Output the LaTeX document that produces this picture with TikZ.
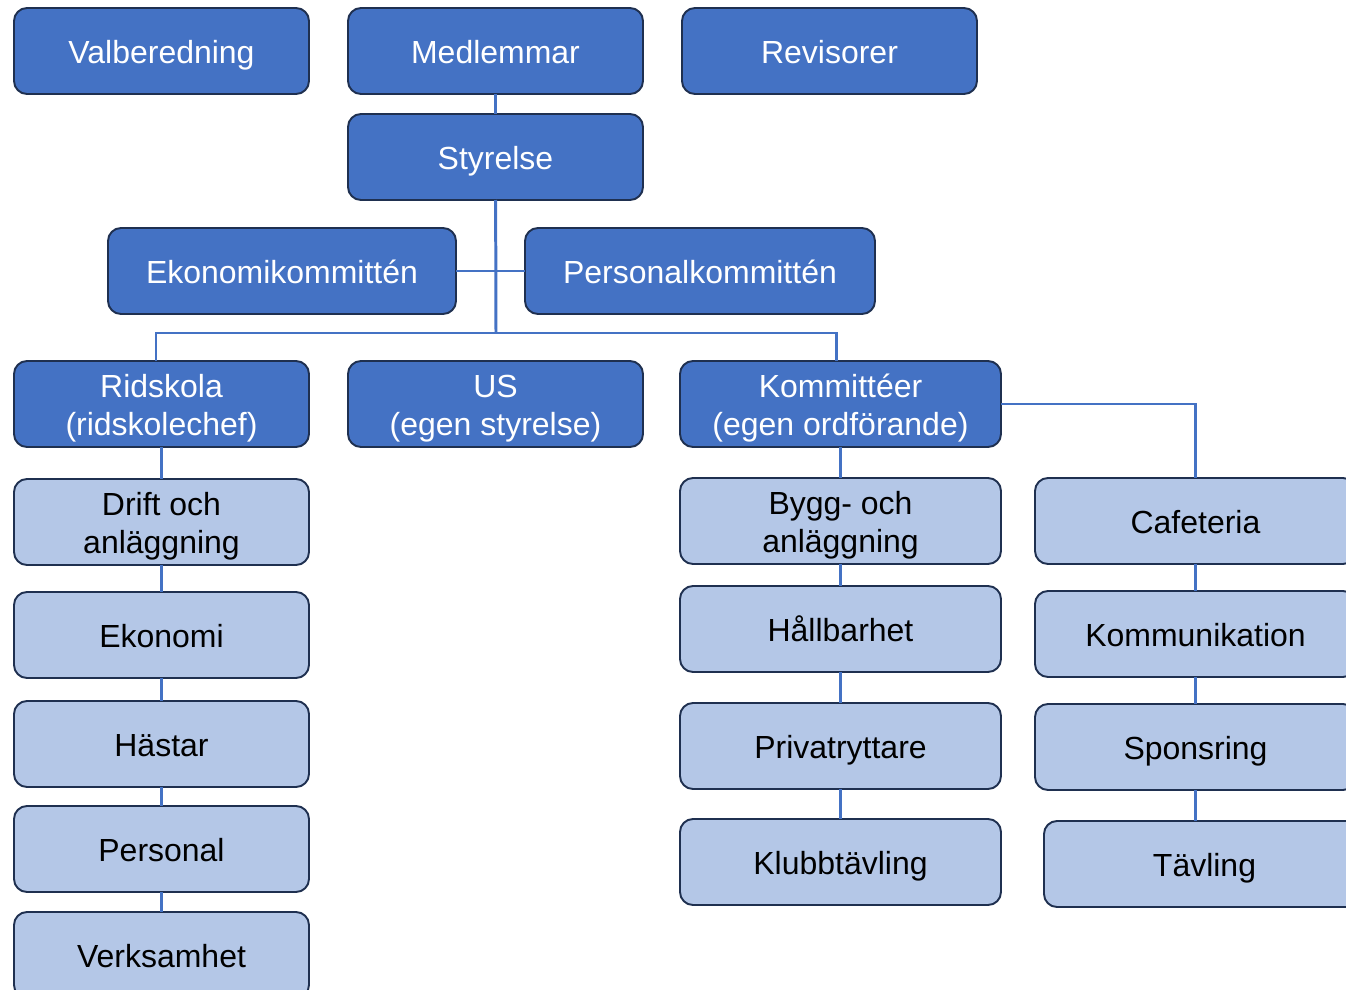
\documentclass[tikz,border=0pt]{standalone}
\usepackage{fontspec}
\setmainfont{Liberation Sans}
\usetikzlibrary{positioning}
\definecolor{boxblue}{HTML}{4472C4}
\definecolor{boxlight}{HTML}{B4C7E7}
\definecolor{boxedge}{HTML}{1F3050}

\begin{document}
\begin{tikzpicture}[
        node distance=0.78cm,
        box/.style={rectangle, rounded corners=0.26cm, draw=boxedge, line width=1.1pt, minimum width=5.9cm, minimum height=1.72cm, align=center, inner sep=2pt, outer sep=0pt, text height=0.6cm, text depth=0.12cm, font=\fontsize{18.2}{21.5}\selectfont},
        twoline/.style={text height=1.36cm},
        darkbox/.style={box, fill=boxblue, text=white},
        lightbox/.style={box, fill=boxlight, text=black},
        wide/.style={minimum width=6.42cm},
        conn/.style={draw=boxblue, line width=1.7pt}
    ]
        \useasboundingbox (0,0) rectangle (26.92,-19.8);
        \clip (0,0) rectangle (26.92,-19.8);

        % Top row
        \node[darkbox] (medlemmar) at (9.91,-1.02) {Medlemmar};
        \node[darkbox] (valberedning) [left=of medlemmar] {Valberedning};
        \node[darkbox] (revisorer) [right=of medlemmar] {Revisorer};
        \node[darkbox] (styrelse) [below=0.4cm of medlemmar] {Styrelse};

        % Committees of the board
        \node[darkbox, minimum width=6.96cm] (ekonomikomm) at (5.64,-5.42) {Ekonomikommittén};
        \node[darkbox, minimum width=7cm] (personalkomm) at (14.0,-5.42) {Personalkommittén};

        % Branches
        \node[darkbox, twoline] (ridskola) at (3.23,-8.08) {Ridskola\\(ridskolechef)};
        \node[darkbox, twoline] (us) at (9.91,-8.08) {US\\(egen styrelse)};
        \node[darkbox, twoline, wide] (kommitteer) at (16.81,-8.08) {Kommittéer\\(egen ordförande)};

        % Ridskola column
        \node[lightbox, twoline] (drift) [below=0.64cm of ridskola] {Drift och\\anläggning};
        \node[lightbox] (ekonomi) [below=0.54cm of drift] {Ekonomi};
        \node[lightbox] (hastar) [below=0.46cm of ekonomi] {Hästar};
        \node[lightbox] (personal) [below=0.38cm of hastar] {Personal};
        \node[lightbox] (verksamhet) [below=0.4cm of personal] {Verksamhet};

        % Kommittéer columns
        \node[lightbox, twoline, wide] (bygg) [below=0.62cm of kommitteer] {Bygg- och\\anläggning};
        \node[lightbox, wide] (hallbarhet) [below=0.44cm of bygg] {Hållbarhet};
        \node[lightbox, wide] (privat) [below=0.62cm of hallbarhet] {Privatryttare};
        \node[lightbox, wide] (klubb) [below=0.6cm of privat] {Klubbtävling};

        \node[lightbox, wide] (cafeteria) at (23.91,-10.42) {Cafeteria};
        \node[lightbox, wide] (kommunikation) [below=0.54cm of cafeteria] {Kommunikation};
        \node[lightbox, wide] (sponsring) [below=0.54cm of kommunikation] {Sponsring};
        \node[lightbox, wide] (tavling) [below=0.62cm of sponsring, xshift=0.18cm] {Tävling};

        % Lines
        \coordinate (split) at (9.92,-6.66);
        \draw[conn] (medlemmar) -- (styrelse);
        \draw[conn] (styrelse) -- (split);
        \draw[conn] (ekonomikomm) -- (personalkomm);
        \draw[conn] (split) -| ([xshift=-0.11cm]ridskola.north);
        \draw[conn] (split) -| ([xshift=-0.09cm]kommitteer.north);
        \draw[conn] (kommitteer) -| (cafeteria);

        \draw[conn] (ridskola) -- (drift);
        \draw[conn] (drift) -- (ekonomi);
        \draw[conn] (ekonomi) -- (hastar);
        \draw[conn] (hastar) -- (personal);
        \draw[conn] (personal) -- (verksamhet);

        \draw[conn] (kommitteer) -- (bygg);
        \draw[conn] (bygg) -- (hallbarhet);
        \draw[conn] (hallbarhet) -- (privat);
        \draw[conn] (privat) -- (klubb);

        \draw[conn] (cafeteria) -- (kommunikation);
        \draw[conn] (kommunikation) -- (sponsring);
        \draw[conn] (sponsring) -- (tavling.north -| sponsring.south);

    \end{tikzpicture}
\end{document}
